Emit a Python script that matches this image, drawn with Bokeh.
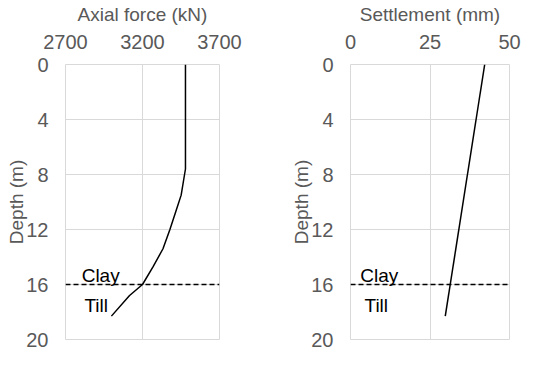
from bokeh.plotting import figure
from bokeh.layouts import row
from bokeh.models import Range1d, FixedTicker, Span, Label
from bokeh.embed import file_html
from bokeh.resources import INLINE

# ---- data ----
force_depth = [0, 7.6, 8.0, 9.5, 10.6, 12.0, 13.4, 14.7, 16.0, 16.8, 18.3]
axial_force = [3479, 3479, 3473, 3451, 3419, 3378, 3333, 3269, 3200, 3116, 2998]
settle_depth = [0, 18.3]
settlement = [42.2, 29.8]
depth_ticks = [0, 4, 8, 12, 16, 20]
force_ticks = [2700, 3200, 3700]
settle_ticks = [0, 25, 50]
layer_boundary = 16
layer_names = ["Clay", "Till"]

FONT = "Liberation Sans"
GRAY = "#595959"
GRID = "#d9d9d9"


def make_panel(width, min_left, min_right, x0, x1, xticks, xlabel, xs, ys,
               clay_x, till_x):
    p = figure(width=width, height=349, output_backend="svg",
               toolbar_location=None, x_axis_location="above",
               x_range=Range1d(x0, x1), y_range=Range1d(20, 0),
               min_border_left=min_left, min_border_right=min_right,
               min_border_top=57, min_border_bottom=10)
    p.outline_line_color = GRID
    p.background_fill_color = "white"
    p.border_fill_color = "white"
    for ax in (p.xaxis[0], p.yaxis[0]):
        ax.axis_line_color = None
        ax.major_tick_line_color = None
        ax.minor_tick_line_color = None
        ax.major_label_text_font = FONT
        ax.major_label_text_font_size = "20px"
        ax.major_label_text_color = GRAY
        ax.axis_label_text_font = FONT
        ax.axis_label_text_font_size = "19px"
        ax.axis_label_text_color = GRAY
        ax.axis_label_text_font_style = "normal"
    p.xaxis.ticker = FixedTicker(ticks=xticks)
    p.yaxis.ticker = FixedTicker(ticks=depth_ticks)
    p.xaxis.axis_label = xlabel
    p.yaxis.axis_label = "Depth (m)"
    p.xaxis.major_label_standoff = 10
    p.xaxis.axis_label_standoff = 7
    p.yaxis.major_label_standoff = 11
    p.yaxis.axis_label_standoff = -4
    p.xgrid.grid_line_color = GRID
    p.ygrid.grid_line_color = GRID
    p.xgrid.ticker = FixedTicker(ticks=xticks)
    p.ygrid.ticker = FixedTicker(ticks=depth_ticks)

    p.line(xs, ys, line_color="black", line_width=1.5)
    p.add_layout(Span(location=layer_boundary, dimension="width",
                      line_color="black", line_width=1.5, line_dash="5 3"))
    p.add_layout(Label(x=clay_x, y=layer_boundary - 0.62, text=layer_names[0],
                       text_font=FONT, text_font_size="19px",
                       text_color="black", text_baseline="alphabetic"))
    p.add_layout(Label(x=till_x, y=layer_boundary + 1.56, text=layer_names[1],
                       text_font=FONT, text_font_size="19px",
                       text_color="black", text_baseline="alphabetic"))
    return p


p1 = make_panel(243, 65, 24, 2700, 3700, force_ticks, "Axial force (kN)",
                axial_force, force_depth, 2805, 2823)
p2 = make_panel(278, 107, 12, 0, 50, settle_ticks, "Settlement (mm)",
                settlement, settle_depth, 3.1, 4.4)

layout = row(p1, p2)
open("out.html", "w").write(file_html(layout, INLINE))
